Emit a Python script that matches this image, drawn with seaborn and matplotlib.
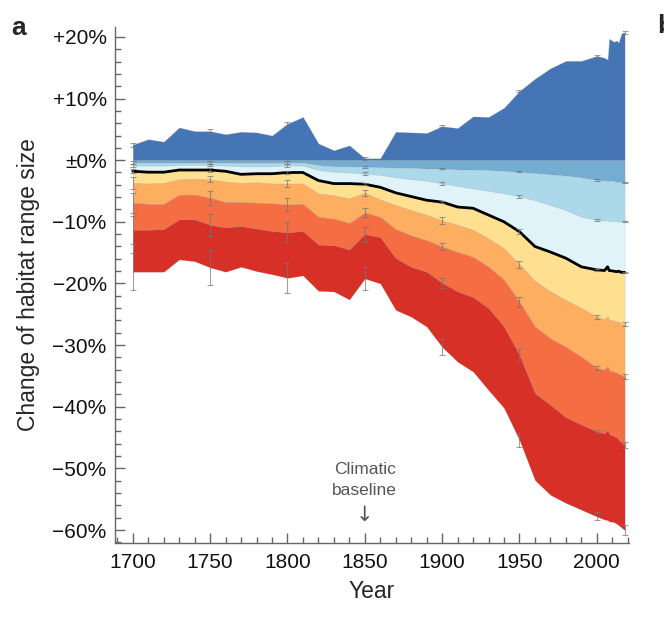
import numpy as np
import pandas as pd
import seaborn as sns
import matplotlib.pyplot as plt
from matplotlib.ticker import MultipleLocator, FixedLocator

# %%
# data (change of habitat range size, %)
years = [1700, 1710, 1720, 1730, 1740, 1750, 1760, 1770, 1780, 1790,
         1800, 1810, 1820, 1830, 1840, 1850, 1860, 1870, 1880, 1890,
         1900, 1910, 1920, 1930, 1940, 1950, 1960, 1970, 1980, 1990,
         2000, 2005, 2007, 2008, 2011, 2013, 2014, 2016, 2018]

top = [2.5, 3.4, 3.0, 5.3, 4.7, 4.7, 4.2, 4.6, 4.5, 4.0,
       5.9, 7.0, 2.7, 1.6, 2.4, 0.3, 0.3, 4.6, 4.5, 4.4,
       5.5, 5.2, 7.1, 7.0, 8.5, 11.2, 13.2, 14.9, 16.1, 16.1,
       16.9, 16.6, 16.3, 19.7, 19.2, 19.4, 19.0, 20.6, 20.7]

mid_blue = [-0.4, -0.4, -0.4, -0.4, -0.4, -0.4, -0.4, -0.45, -0.45, -0.45,
            -0.4, -0.4, -0.8, -1.0, -1.0, -1.1, -1.15, -1.2, -1.25, -1.35,
            -1.4, -1.5, -1.55, -1.6, -1.75, -1.9, -2.1, -2.3, -2.5, -2.8,
            -3.2, -3.3, -3.4, -3.3, -3.4, -3.5, -3.5, -3.6, -3.6]

light_blue = [-0.9, -0.9, -0.9, -0.8, -0.8, -0.8, -0.9, -1.0, -1.0, -1.0,
              -0.9, -0.9, -1.6, -1.9, -2.0, -2.2, -2.4, -2.8, -3.1, -3.35,
              -3.8, -4.2, -4.6, -5.0, -5.4, -5.9, -6.5, -7.3, -8.1, -9.2,
              -9.7, -9.8, -9.7, -9.9, -9.9, -9.9, -10.0, -10.0, -10.0]

median = [-1.8, -1.95, -1.95, -1.6, -1.6, -1.6, -1.8, -2.3, -2.2, -2.2,
          -2.0, -2.0, -3.3, -3.8, -3.8, -3.9, -4.4, -5.3, -5.9, -6.5,
          -6.8, -7.6, -7.8, -8.9, -10.0, -11.6, -14.0, -14.9, -15.9, -17.3,
          -17.8, -17.9, -17.3, -17.9, -18.0, -18.1, -18.0, -18.2, -18.2]

yellow = [-3.7, -3.8, -3.7, -3.1, -3.0, -3.1, -3.5, -3.7, -3.6, -3.8,
          -3.8, -3.8, -5.4, -5.7, -6.2, -5.3, -6.4, -7.3, -8.1, -8.9,
          -9.8, -10.5, -11.3, -12.7, -14.3, -16.9, -19.6, -21.3, -22.7, -24.0,
          -25.4, -25.8, -25.3, -25.9, -26.0, -26.2, -26.2, -26.5, -26.6]

light_orange = [-6.9, -7.1, -7.1, -5.6, -5.6, -6.1, -6.8, -6.8, -6.9, -7.0,
                -7.2, -7.1, -9.2, -9.5, -10.2, -8.5, -9.2, -11.2, -12.2, -13.0,
                -14.0, -14.9, -15.7, -17.3, -19.4, -23.0, -27.0, -28.9, -30.3, -31.9,
                -33.7, -34.0, -33.4, -34.1, -34.3, -34.5, -34.6, -34.9, -35.1]

orange = [-11.3, -11.3, -11.2, -9.6, -9.6, -10.5, -10.9, -10.7, -11.1, -11.5,
          -11.7, -11.5, -13.7, -13.8, -14.5, -12.0, -12.5, -15.9, -17.3, -18.1,
          -19.9, -21.3, -22.2, -24.0, -27.0, -31.6, -37.8, -39.7, -41.7, -42.9,
          -44.0, -44.3, -43.8, -44.4, -44.8, -45.0, -45.3, -45.8, -46.2]

red = [-18.1, -18.1, -18.1, -16.1, -16.4, -17.4, -18.1, -17.3, -18.0, -18.5,
       -19.1, -18.7, -21.2, -21.3, -22.6, -19.2, -20.0, -24.3, -25.4, -27.0,
       -30.3, -32.7, -34.3, -37.3, -40.2, -45.4, -51.9, -54.3, -55.6, -56.7,
       -57.8, -58.3, -58.4, -58.6, -58.7, -59.0, -59.2, -59.6, -60.0]

# error bars (half widths, %)
err_years = [1700, 1750, 1800, 1850, 1900, 1950, 2000, 2018]
err = {
    'top':          [0.3, 0.4, 0.3, 0.2, 0.2, 0.2, 0.2, 0.3],
    'mid_blue':     [0.2, 0.2, 0.2, 0.2, 0.1, 0.1, 0.1, 0.1],
    'light_blue':   [0.2, 0.2, 0.2, 0.2, 0.2, 0.3, 0.1, 0.1],
    'median':       [0.3, 0.4, 0.3, 0.2, 0.2, 0.4, 0.1, 0.1],
    'yellow':       [0.9, 0.5, 0.6, 0.45, 0.5, 0.6, 0.3, 0.3],
    'light_orange': [1.6, 1.1, 1.1, 0.75, 0.6, 0.8, 0.3, 0.45],
    'orange':       [2.3, 1.8, 1.6, 1.2, 0.8, 0.95, 0.3, 0.5],
    'red':          [3.0, 2.8, 2.4, 1.9, 1.35, 1.1, 0.65, 0.8],
}

df = pd.DataFrame({'year': years, 'top': top, 'zero': 0.0, 'mid_blue': mid_blue,
                   'light_blue': light_blue, 'median': median, 'yellow': yellow,
                   'light_orange': light_orange, 'orange': orange, 'red': red})

# %%
sns.set_style('ticks')
plt.rcParams['font.family'] = ['Liberation Sans', 'DejaVu Sans']

fig = plt.figure(figsize=(6.64, 6.21), dpi=100)
ax = fig.add_axes([115 / 664, 78 / 621, 513.5 / 664, 516 / 621])

bands = [('zero', 'top', '#4575b4'),
         ('mid_blue', 'zero', '#74add1'),
         ('light_blue', 'mid_blue', '#abd9e9'),
         ('median', 'light_blue', '#e0f3f8'),
         ('yellow', 'median', '#fee090'),
         ('light_orange', 'yellow', '#fdae61'),
         ('orange', 'light_orange', '#f46d43'),
         ('red', 'orange', '#d73027')]
for lo_col, hi_col, c in bands:
    ax.fill_between(df['year'], df[lo_col], df[hi_col], color=c, lw=0.4,
                    edgecolor=(0.5, 0.5, 0.5, 0.25))

sns.lineplot(data=df, x='year', y='median', color='black', lw=2, ax=ax)

sub = df.set_index('year').loc[err_years]
for col, e in err.items():
    ax.errorbar(err_years, sub[col], yerr=e, fmt='none', ecolor='#777777',
                alpha=0.7, elinewidth=0.8, capsize=2.5, capthick=0.8, zorder=5)

ax.set_xlim(1688.5, 2020.5)
ax.set_ylim(-62.1, 21.6)
sns.despine(ax=ax)
for s in ['left', 'bottom']:
    ax.spines[s].set_color('#666666')
    ax.spines[s].set_linewidth(1)

ax.xaxis.set_major_locator(FixedLocator([1700, 1750, 1800, 1850, 1900, 1950, 2000]))
ax.xaxis.set_minor_locator(MultipleLocator(10))
ax.yaxis.set_major_locator(MultipleLocator(10))
ax.yaxis.set_minor_locator(MultipleLocator(2))
ax.set_yticks([20, 10, 0, -10, -20, -30, -40, -50, -60])
ax.set_yticklabels(['+20%', '+10%', '\u00b10%', '\u221210%', '\u221220%', '\u221230%',
                    '\u221240%', '\u221250%', '\u221260%'])
ax.tick_params(which='both', direction='in', color='#666666', width=1)
ax.tick_params(which='major', length=7, labelsize=15, labelcolor='#111111')
ax.tick_params(which='minor', length=4)
ax.tick_params(axis='x', which='major', pad=7)
ax.tick_params(axis='y', which='major', pad=6)

ax.set_xlabel('Year', fontsize=16.5, labelpad=6)
ax.set_ylabel('Change of habitat range size', fontsize=16.5, labelpad=9)

ax.text(1850, -51.8, 'Climatic\nbaseline', ha='center', va='center',
        fontsize=12.5, color='#555555', linespacing=1.5)
ax.text(1850, -57.6, '\u2193', ha='center', va='center', fontsize=15,
        color='#555555', family=['DejaVu Sans'])

fig.text(11 / 664, 1 - 35 / 621, 'a', fontsize=19, fontweight='bold')
fig.text(657 / 664, 1 - 33 / 621, 'b', fontsize=19, fontweight='bold')

plt.savefig('out.png', dpi=100)
